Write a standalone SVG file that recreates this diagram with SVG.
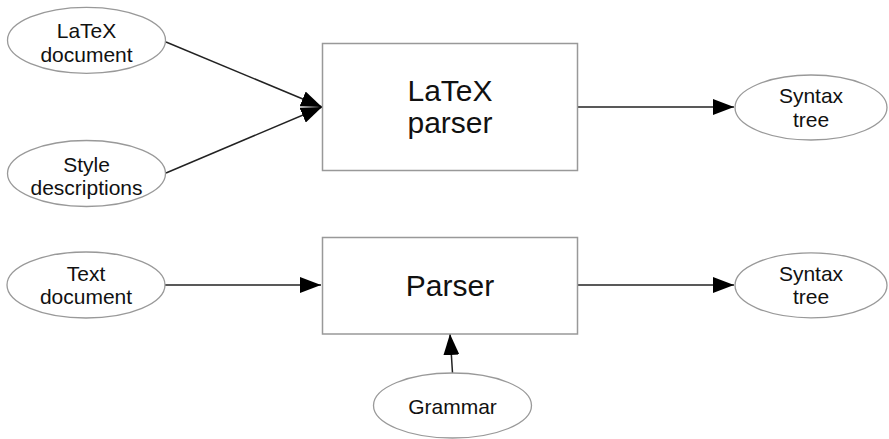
<svg xmlns="http://www.w3.org/2000/svg" width="889" height="439" viewBox="0 0 889 439">
<style>
.ell{fill:#fff;stroke:#999;stroke-width:1.3}
.box{fill:#fff;stroke:#999;stroke-width:1.5}
.t{font-family:"Liberation Sans",Arial,sans-serif;font-size:21px;fill:#111;text-anchor:middle}
.tb{font-family:"Liberation Sans",Arial,sans-serif;font-size:30px;fill:#111;text-anchor:middle}
.edge{stroke:#222;stroke-width:1.5;fill:none;marker-end:url(#ah)}
</style>
<defs>
<marker id="ah" markerUnits="userSpaceOnUse" markerWidth="22" markerHeight="16" refX="21" refY="8" orient="auto">
<path d="M0,0 L21,8 L0,16 Z" fill="#000"/>
</marker>
</defs>
<rect width="889" height="439" fill="#fff"/>
<g id="connectors">
<line class="edge" x1="166" y1="42" x2="322" y2="107"/>
<line class="edge" x1="166" y1="173" x2="322" y2="107"/>
<line class="edge" x1="577" y1="107" x2="734" y2="107"/>
<line class="edge" x1="165" y1="285" x2="321" y2="285"/>
<line class="edge" x1="577" y1="285" x2="734" y2="285"/>
<line class="edge" x1="452.5" y1="373" x2="450" y2="334"/>
</g>
<g id="latex-document">
<ellipse class="ell" cx="86.5" cy="40.3" rx="79" ry="33"/>
<text class="t" x="86.5" y="37.5">LaTeX</text>
<text class="t" x="86.5" y="61.5">document</text>
</g>
<g id="style-descriptions">
<ellipse class="ell" cx="86.5" cy="173.5" rx="79" ry="33"/>
<text class="t" x="86.5" y="171.5">Style</text>
<text class="t" x="86.5" y="194.5">descriptions</text>
</g>
<g id="latex-parser">
<rect class="box" x="322.5" y="43.5" width="255" height="127"/>
<text class="tb" x="450" y="100.5">LaTeX</text>
<text class="tb" x="450" y="133">parser</text>
</g>
<g id="syntax-tree-1">
<ellipse class="ell" cx="811" cy="107.5" rx="76" ry="32.5"/>
<text class="t" x="811" y="103">Syntax</text>
<text class="t" x="811" y="126.5">tree</text>
</g>
<g id="text-document">
<ellipse class="ell" cx="86" cy="285" rx="79" ry="33"/>
<text class="t" x="86" y="281">Text</text>
<text class="t" x="86" y="303.5">document</text>
</g>
<g id="parser">
<rect class="box" x="322.5" y="237.5" width="255" height="96.5"/>
<text class="tb" x="450" y="296">Parser</text>
</g>
<g id="syntax-tree-2">
<ellipse class="ell" cx="811" cy="285.3" rx="76" ry="32.5"/>
<text class="t" x="811" y="280.5">Syntax</text>
<text class="t" x="811" y="303.5">tree</text>
</g>
<g id="grammar">
<ellipse class="ell" cx="452.5" cy="405.5" rx="79" ry="32.5"/>
<text class="t" x="452.5" y="414">Grammar</text>
</g>
</svg>
